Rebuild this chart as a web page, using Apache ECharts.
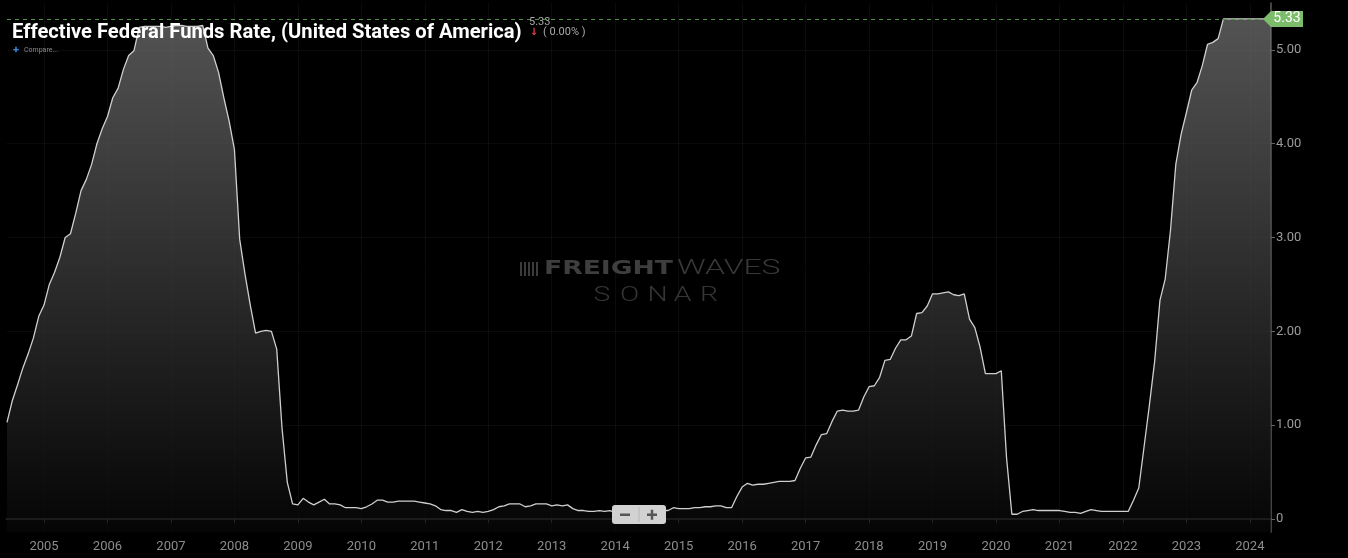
<!DOCTYPE html>
<html><head><meta charset="utf-8">
<script src="https://cdn.jsdelivr.net/npm/echarts@6/dist/echarts.min.js"></script>
<style>html,body{margin:0;padding:0;background:#000;overflow:hidden}#c{width:1348px;height:558px}</style>
</head><body><div id="c"></div>
<script>
// Monthly effective federal funds rate, Jun 2004 - May 2024
const firstYear = 2004, firstMonth = 6, lastYear = 2024, lastMonth = 5;
const rates = [
  /*2004 Jun-Dec*/ 1.03,1.26,1.43,1.61,1.76,1.93,2.16,
  /*2005*/ 2.28,2.50,2.63,2.79,3.00,3.04,3.26,3.50,3.62,3.78,4.00,4.16,
  /*2006*/ 4.29,4.49,4.59,4.79,4.94,4.99,5.24,5.25,5.25,5.25,5.25,5.24,
  /*2007*/ 5.25,5.26,5.26,5.25,5.25,5.25,5.26,5.02,4.94,4.76,4.49,4.24,
  /*2008*/ 3.94,2.98,2.61,2.28,1.98,2.00,2.01,2.00,1.81,0.97,0.39,0.16,
  /*2009*/ 0.15,0.22,0.18,0.15,0.18,0.21,0.16,0.16,0.15,0.12,0.12,0.12,
  /*2010*/ 0.11,0.13,0.16,0.20,0.20,0.18,0.18,0.19,0.19,0.19,0.19,0.18,
  /*2011*/ 0.17,0.16,0.14,0.10,0.09,0.09,0.07,0.10,0.08,0.07,0.08,0.07,
  /*2012*/ 0.08,0.10,0.13,0.14,0.16,0.16,0.16,0.13,0.14,0.16,0.16,0.16,
  /*2013*/ 0.14,0.15,0.14,0.15,0.11,0.09,0.09,0.08,0.08,0.09,0.08,0.09,
  /*2014*/ 0.07,0.07,0.08,0.09,0.09,0.10,0.09,0.09,0.09,0.09,0.09,0.12,
  /*2015*/ 0.11,0.11,0.11,0.12,0.12,0.13,0.13,0.14,0.14,0.12,0.12,0.24,
  /*2016*/ 0.34,0.38,0.36,0.37,0.37,0.38,0.39,0.40,0.40,0.40,0.41,0.54,
  /*2017*/ 0.65,0.66,0.79,0.90,0.91,1.04,1.15,1.16,1.15,1.15,1.16,1.30,
  /*2018*/ 1.41,1.42,1.51,1.69,1.70,1.82,1.91,1.91,1.95,2.19,2.20,2.27,
  /*2019*/ 2.40,2.40,2.41,2.42,2.39,2.38,2.40,2.13,2.04,1.83,1.55,1.55,
  /*2020*/ 1.55,1.58,0.65,0.05,0.05,0.08,0.09,0.10,0.09,0.09,0.09,0.09,
  /*2021*/ 0.09,0.08,0.07,0.07,0.06,0.08,0.10,0.09,0.08,0.08,0.08,0.08,
  /*2022*/ 0.08,0.08,0.20,0.33,0.77,1.21,1.68,2.33,2.56,3.08,3.78,4.10,
  /*2023*/ 4.33,4.57,4.65,4.83,5.06,5.08,5.12,5.33,5.33,5.33,5.33,5.33,
  /*2024 Jan-May*/ 5.33,5.33,5.33,5.33,5.33
];
const yTickValues = [0, 1, 2, 3, 4, 5];
const titleText = 'Effective Federal Funds Rate, (United States of America)';
const changeText = '( 0.00% )';

const categories = [];
for (let y = firstYear, m = firstMonth; y < lastYear || (y === lastYear && m <= lastMonth); ) {
  categories.push(y + '-' + String(m).padStart(2, '0'));
  m++; if (m > 12) { m = 1; y++; }
}
const isJan = (i, v) => String(v).endsWith('-01');
const lastValue = rates[rates.length - 1];

const chart = echarts.init(document.getElementById('c'), null, {renderer: 'canvas'});
const GRID = {left: 7, right: 77, top: 3, bottom: 26};

chart.setOption({
  backgroundColor: '#000',
  animation: false,
  grid: GRID,
  xAxis: {
    type: 'category', data: categories, boundaryGap: false,
    axisLine: {lineStyle: {color: '#5a5a5a', width: 1.5}},
    axisTick: {interval: isJan, length: 4, lineStyle: {color: '#666'}},
    axisLabel: {interval: isJan, formatter: v => v.slice(0, 4), color: '#8c8c8c',
      fontFamily: 'Roboto', fontSize: 13, margin: 8},
    splitLine: {show: true, interval: isJan, lineStyle: {color: 'rgba(255,255,255,0.045)', width: 1}}
  },
  yAxis: {
    type: 'value', position: 'right', min: -0.139, max: 5.5,
    axisLine: {show: true, lineStyle: {color: '#5a5a5a', width: 1.5}},
    axisTick: {show: true, customValues: yTickValues, length: 4, lineStyle: {color: '#666'}},
    axisLabel: {customValues: yTickValues,
      formatter: v => v === 0 ? '0' : v.toFixed(2), color: '#9a9a9a',
      fontFamily: 'Roboto', fontSize: 13, margin: 5},
    splitLine: {show: true, lineStyle: {color: 'rgba(255,255,255,0.045)', width: 1}}
  },
  series: [{
    type: 'line', data: rates, symbol: 'none', smooth: false,
    lineStyle: {color: '#cfcfcf', width: 1.3},
    areaStyle: {origin: 'start',
      color: new echarts.graphic.LinearGradient(0, 3, 0, 532, [
        {offset: 0, color: '#7a7a7a'}, {offset: 1, color: '#070707'}], true)},
    markLine: {
      silent: true, symbol: 'none', animation: false,
      label: {show: false},
      lineStyle: {color: '#4f9243', type: [4, 4], width: 1, opacity: 1},
      emphasis: {disabled: true},
      data: [{yAxis: lastValue}]
    }
  }]
});

const yLast = chart.convertToPixel({yAxisIndex: 0}, lastValue);
const xr = 1348 - GRID.right;
const T = (x, y, text, fill, font, extra) => Object.assign({type: 'text', x, y, z: 100,
  style: Object.assign({text, fill, font, textVerticalAlign: 'middle'}, extra || {})});
const R = (x, y, w, h, fill, r) => ({type: 'rect', z: 100, shape: {x, y, width: w, height: h, r: r || 0}, style: {fill}});
chart.setOption({
  graphic: [
    // watermark (behind series)
    {type: 'group', silent: true, z: 0, children: [
      {type: 'rect', shape: {x: 520, y: 262, width: 2, height: 14}, style: {fill: '#3c3c3c'}},
      {type: 'rect', shape: {x: 524, y: 262, width: 2, height: 14}, style: {fill: '#3c3c3c'}},
      {type: 'rect', shape: {x: 528, y: 262, width: 2, height: 14}, style: {fill: '#3c3c3c'}},
      {type: 'rect', shape: {x: 532, y: 262, width: 2, height: 14}, style: {fill: '#3c3c3c'}},
      {type: 'rect', shape: {x: 536, y: 262, width: 2, height: 14}, style: {fill: '#3c3c3c'}},
      {type: 'text', x: 544, y: 269, scaleX: 1.4, style: {text: 'FREIGHT', fill: '#3e3e3e',
        font: 'bold 19px "DejaVu Sans"', textVerticalAlign: 'middle'}},
      {type: 'text', x: 677, y: 269, scaleX: 1.6, style: {text: 'WAVES', fill: '#383838',
        font: '300 20px Roboto', textVerticalAlign: 'middle'}},
      {type: 'text', x: 602, y: 296, scaleX: 1.35, style: {text: 'S', fill: '#353535', font: '300 21px Roboto', textAlign: 'center', textVerticalAlign: 'middle'}},
      {type: 'text', x: 629.5, y: 296, scaleX: 1.35, style: {text: 'O', fill: '#353535', font: '300 21px Roboto', textAlign: 'center', textVerticalAlign: 'middle'}},
      {type: 'text', x: 657.5, y: 296, scaleX: 1.35, style: {text: 'N', fill: '#353535', font: '300 21px Roboto', textAlign: 'center', textVerticalAlign: 'middle'}},
      {type: 'text', x: 682.5, y: 296, scaleX: 1.35, style: {text: 'A', fill: '#353535', font: '300 21px Roboto', textAlign: 'center', textVerticalAlign: 'middle'}},
      {type: 'text', x: 709, y: 296, scaleX: 1.35, style: {text: 'R', fill: '#353535', font: '300 21px Roboto', textAlign: 'center', textVerticalAlign: 'middle'}}
    ]},
    // title block
    T(12, 33, titleText, '#ffffff', 'bold 20.2px Roboto', {shadowColor: 'rgba(0,0,0,0.9)', shadowBlur: 3}),
    T(529, 22, lastValue.toFixed(2), '#a9a9a9', '11px Roboto'),
    T(534, 32, '↓', '#e0474c', 'bold 10px "DejaVu Sans"', {textAlign: 'center'}),
    T(543, 32, changeText, '#a9a9a9', '11px Roboto'),
    T(13, 50, '+', '#2f8fe6', 'bold 11px Roboto'),
    T(24, 50, 'Compare...', '#8a8a8a', '7px Roboto'),
    // last value badge
    {type: 'polygon', z: 100, shape: {points: [[xr - 8, yLast], [xr, yLast - 8], [xr + 32, yLast - 8],
      [xr + 32, yLast + 8], [xr, yLast + 8]]}, style: {fill: '#7cbd6c'}},
    T(xr + 16, yLast, lastValue.toFixed(2), '#ffffff', '14px Roboto', {textAlign: 'center'}),
    // zoom control
    R(612, 505, 54, 19, '#d2d2d2', 3),
    {type: 'line', z: 101, shape: {x1: 639, y1: 507, x2: 639, y2: 522}, style: {stroke: '#b8b8b8', lineWidth: 1}},
    R(620, 513.5, 10, 2.5, '#555'),
    R(647, 513.5, 10, 2.5, '#555'),
    R(650.75, 509.75, 2.5, 10, '#555')
  ]
});
</script></body></html>
